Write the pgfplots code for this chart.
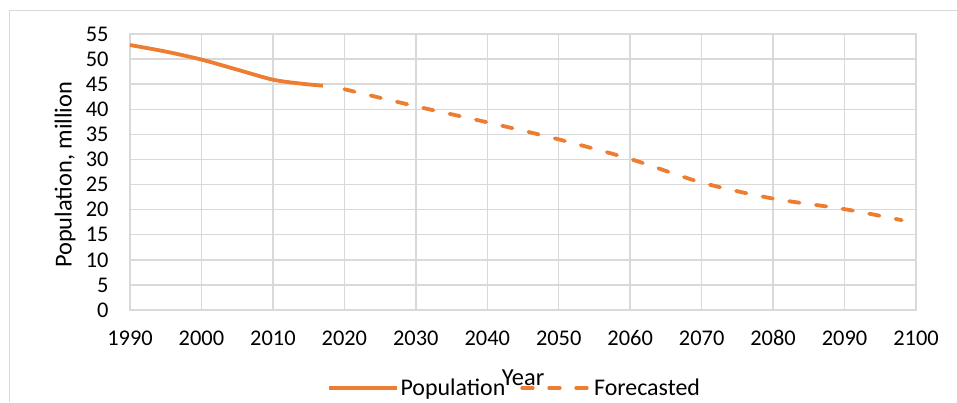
\documentclass[border=0pt]{standalone}
\usepackage{pgfplots}
\pgfplotsset{compat=1.18}
\usepackage{fontspec}
\setmainfont{Carlito}
\definecolor{lineor}{HTML}{ED7D31}
\definecolor{gridg}{HTML}{D9D9D9}
\begin{document}
\begin{tikzpicture}[x=1bp,y=1bp]
\useasboundingbox (-130,-92) rectangle (827,310);
\draw[gridg, line width=1bp] (-120,-92) -- (-120,300) -- (827,300);
\begin{axis}[
  at={(0,0)}, anchor=south west,
  scale only axis, width=786bp, height=276bp,
  xmin=1990, xmax=2100, ymin=0, ymax=55,
  xtick={1990,2000,...,2100}, ytick={0,5,...,55},
  /pgf/number format/1000 sep={},
  /pgf/number format/assume math mode=true,
  tick style={draw=none},
  grid=major, major grid style={gridg, line width=1.5bp},
  axis line style={gridg, line width=1.5bp},
  tick label style={font=\fontsize{22.5}{22.5}\selectfont},
  yticklabel style={xshift=-18bp},
  xticklabel style={yshift=-17bp},
  xlabel={Year}, ylabel={Population, million},
  label style={font=\fontsize{24.5}{24.5}\selectfont},
  xlabel style={at={(axis description cs:0.5,0)}, anchor=center, yshift=-68bp},
  ylabel style={at={(axis description cs:-0.0827,0.49)}, anchor=center},
  legend style={at={(axis description cs:0.489,-0.283)}, anchor=center, draw=none, fill=none,
    font=\fontsize{24}{24}\selectfont, legend columns=2,
    /tikz/every even column/.append style={column sep=13bp}},
  legend image code/.code={\draw[#1] (0bp,0bp) -- (68bp,0bp);},
]
\addplot[lineor, line width=3.8bp, smooth, tension=0.5] coordinates {
(1990,52.8) (1995,51.5) (2000,49.9) (2005,47.9) (2010,45.9) (2014,45.1) (2017,44.7)};
\addlegendentry{Population}
\addplot[lineor, line width=3.8bp, line cap=round, dash pattern=on 10.5bp off 16.5bp, smooth, tension=0.5] coordinates {
(2020,44.0) (2030,40.6) (2040,37.4) (2050,34.0) (2060,30.1) (2070,25.4) (2080,22.2) (2090,20.1) (2098,17.9)};
\addlegendentry{Forecasted}
\end{axis}
\end{tikzpicture}
\end{document}
